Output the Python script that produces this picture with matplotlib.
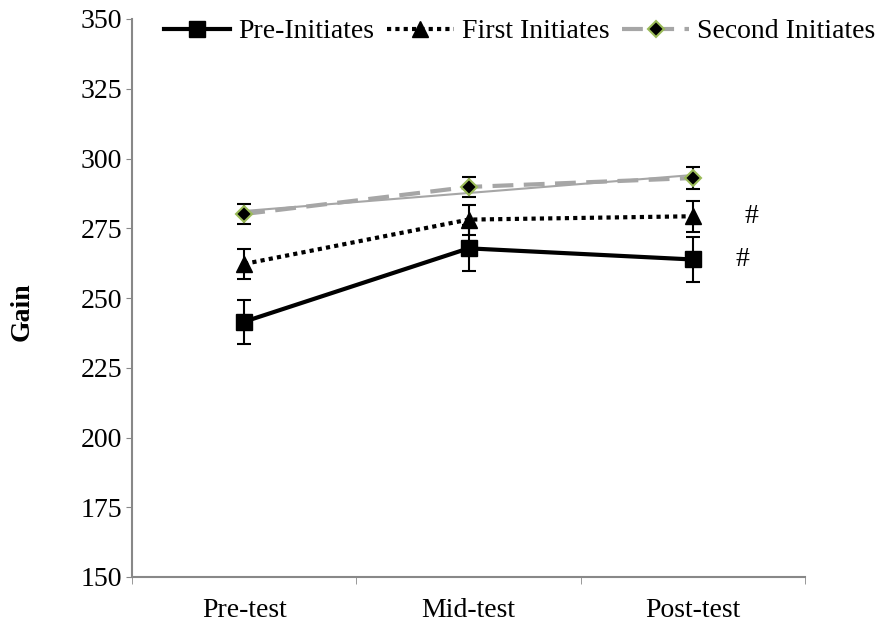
import numpy as np
import matplotlib
matplotlib.use("Agg")
import matplotlib.pyplot as plt
from matplotlib.lines import Line2D

plt.rcParams['font.family'] = ['Liberation Serif', 'DejaVu Serif']

tests = ['Pre-test', 'Mid-test', 'Post-test']
pre_init = [241.5, 267.8, 263.8]
pre_init_err = [7.9, 8.2, 8.2]
first_init = [262.2, 278.1, 279.3]
first_init_err = [5.4, 5.4, 5.5]
second_init = [280.1, 289.8, 293.0]
second_init_err = [3.7, 3.6, 3.8]

x = np.arange(len(tests))
fs = 20

fig = plt.figure(figsize=(8.82, 6.25), dpi=100)
ax = fig.add_axes([0.1497, 0.0768, 0.7630, 0.8928])

grey = '#A6A6A6'

# linear trend of second initiates (thin grey)
coef = np.polyfit(x, second_init, 1)
ax.plot(x, np.polyval(coef, x), color=grey, lw=1.5, zorder=2)

ax.errorbar(x, pre_init, yerr=pre_init_err, color='black', lw=3, marker='s', ms=11,
            capsize=5, elinewidth=1.5, capthick=1.5, zorder=3)
ax.errorbar(x, first_init, yerr=first_init_err, color='black', lw=3, ls=(0, (1, 1)),
            marker='^', ms=11, capsize=5, elinewidth=1.5, capthick=1.5, zorder=3)
ax.errorbar(x, second_init, yerr=second_init_err, color=grey, lw=3, ls=(0, (5, 2.5)),
            marker='D', ms=8, mfc='black', mec='#9BBB59', mew=1.5,
            ecolor='black', capsize=5, elinewidth=1.5, capthick=1.5, zorder=3)

ax.text(2.23, first_init[2], '#', fontsize=fs, va='center', ha='left')
ax.text(2.19, pre_init[2], '#', fontsize=fs, va='center', ha='left')

ax.set_xlim(-0.5, 2.5)
ax.set_ylim(150, 350)
ax.set_yticks(np.arange(150, 351, 25))
ax.set_xticks(x)
ax.set_xticklabels(tests)
ax.set_xticks([-0.5, 0.5, 1.5, 2.5], minor=True)
ax.tick_params(axis='x', which='major', length=0, labelsize=fs, pad=15)
ax.tick_params(axis='x', which='minor', length=5, color='#888888', direction='out')
ax.tick_params(axis='y', length=4.5, color='#888888', direction='out', labelsize=fs, pad=2.5)

for s in ['top', 'right']:
    ax.spines[s].set_visible(False)
for s in ['left', 'bottom']:
    ax.spines[s].set_color('#888888')
    ax.spines[s].set_linewidth(1.5)

ax.set_ylabel('Gain', fontsize=fs, fontweight='bold')
ax.yaxis.set_label_coords(-0.145, 0.475)

handles = [
    Line2D([], [], color='black', lw=3, marker='s', ms=11),
    Line2D([], [], color='black', lw=3, ls=(0, (1, 1)), marker='^', ms=11),
    Line2D([], [], color=grey, lw=3, ls=(0, (5, 2.5)), marker='D', ms=8,
           mfc='black', mec='#9BBB59', mew=1.5),
]
labels = ['Pre-Initiates', 'First Initiates', 'Second Initiates']
ax.legend(handles, labels, loc='upper left', bbox_to_anchor=(0.018, 1.035), ncol=3,
          frameon=False, fontsize=fs, handlelength=2.4, columnspacing=0.45,
          handletextpad=0.3, borderpad=0.2)

fig.savefig('out.png', dpi=100)
